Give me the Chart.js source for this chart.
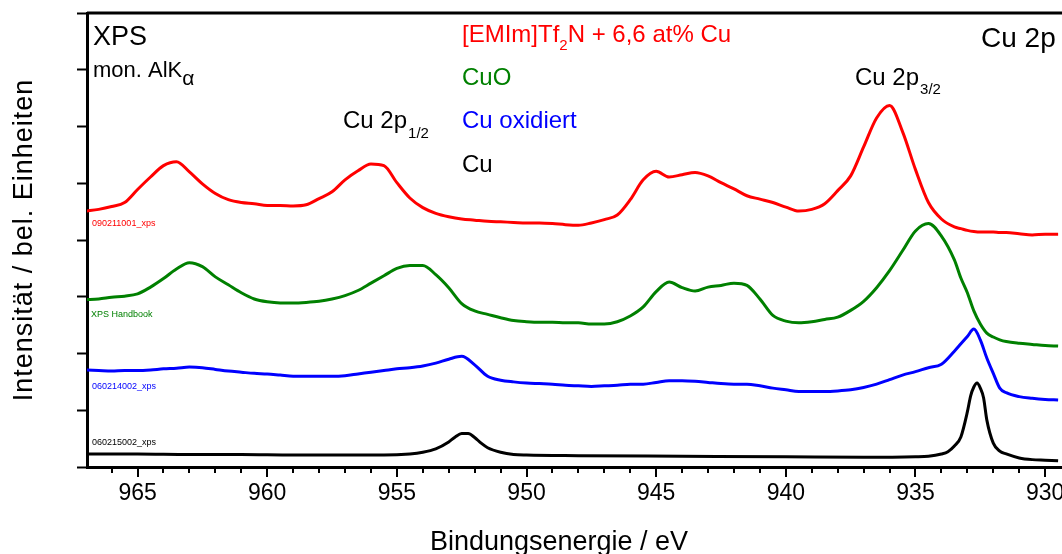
<!DOCTYPE html>
<html>
<head>
<meta charset="utf-8">
<script src="https://cdn.jsdelivr.net/npm/chart.js@4.4.1/dist/chart.umd.min.js"></script>
<style>
html, body { margin: 0; padding: 0; background: #fff; overflow: hidden; }
canvas { display: block; }
</style>
</head>
<body>
<canvas id="xps" width="1062" height="554"></canvas>
<script>
"use strict";

// Bindungsenergie grid (eV) for the three broad spectra
var energy = [967, 966.5, 966, 965.5, 965, 964.5, 964, 963.5, 963, 962.5, 962, 961.5, 961, 960.5, 960,
    959.5, 959, 958.5, 958, 957.5, 957, 956.5, 956, 955.5, 955, 954.5, 954, 953.5, 953, 952.5, 952,
    951.5, 951, 950.5, 950, 949.5, 949, 948.5, 948, 947.5, 947, 946.5, 946, 945.5, 945, 944.5, 944,
    943.5, 943, 942.5, 942, 941.5, 941, 940.5, 940, 939.5, 939, 938.5, 938, 937.5, 937, 936.5, 936,
    935.5, 935, 934.5, 934, 933.5, 933.25, 933, 932.75, 932.5, 932.25, 932, 931.75, 931.5, 931,
    930.5, 930, 929.5];

// [EMIm]Tf2N + 6,6 at% Cu (090211001_xps)
var emimCu = [4.51, 4.54, 4.59, 4.66, 4.89, 5.11, 5.31, 5.38, 5.20, 4.99, 4.82, 4.71, 4.66, 4.64, 4.61,
    4.61, 4.60, 4.62, 4.73, 4.85, 5.06, 5.22, 5.34, 5.31, 5.01, 4.74, 4.57, 4.47, 4.41, 4.37, 4.35,
    4.33, 4.32, 4.31, 4.30, 4.30, 4.29, 4.27, 4.26, 4.30, 4.36, 4.44, 4.71, 5.06, 5.21, 5.11, 5.15,
    5.19, 5.13, 5.01, 4.90, 4.78, 4.72, 4.66, 4.58, 4.51, 4.54, 4.64, 4.87, 5.13, 5.64, 6.15, 6.37,
    5.91, 5.24, 4.66, 4.37, 4.23, 4.20, 4.17, 4.15, 4.14, 4.14, 4.14, 4.13, 4.13, 4.11,
    4.09, 4.10, 4.10];

// CuO (XPS Handbook)
var cuO = [2.95, 2.96, 2.99, 3.01, 3.05, 3.17, 3.32, 3.49, 3.60, 3.53, 3.35, 3.21, 3.07, 2.96, 2.91,
    2.89, 2.89, 2.90, 2.92, 2.96, 3.02, 3.11, 3.24, 3.37, 3.50, 3.55, 3.55, 3.39, 3.16, 2.88, 2.75,
    2.69, 2.63, 2.58, 2.56, 2.55, 2.55, 2.54, 2.54, 2.52, 2.52, 2.56, 2.66, 2.82, 3.09, 3.26, 3.16,
    3.10, 3.17, 3.20, 3.24, 3.20, 2.96, 2.67, 2.57, 2.54, 2.56, 2.60, 2.64, 2.76, 2.92, 3.16, 3.46,
    3.81, 4.16, 4.29, 4.07, 3.65, 3.33, 3.07, 2.75, 2.52, 2.36, 2.29, 2.24, 2.21, 2.18,
    2.16, 2.14, 2.13];

// Cu oxidiert (060214002_xps)
var cuOxidiert = [1.71, 1.70, 1.69, 1.70, 1.70, 1.71, 1.73, 1.74, 1.76, 1.75, 1.72, 1.69, 1.67, 1.65, 1.64,
    1.62, 1.60, 1.60, 1.60, 1.60, 1.61, 1.64, 1.67, 1.70, 1.73, 1.75, 1.78, 1.83, 1.90, 1.95, 1.80,
    1.60, 1.53, 1.50, 1.48, 1.47, 1.46, 1.44, 1.43, 1.42, 1.43, 1.44, 1.46, 1.46, 1.49, 1.52, 1.52,
    1.51, 1.49, 1.47, 1.46, 1.46, 1.43, 1.39, 1.36, 1.33, 1.33, 1.33, 1.34, 1.36, 1.40, 1.46, 1.54,
    1.62, 1.68, 1.75, 1.81, 2.04, 2.17, 2.30, 2.43, 2.24, 1.92, 1.65, 1.39, 1.31, 1.24,
    1.21, 1.19, 1.18];

// metallic Cu (060215002_xps), denser around the narrow lines
var cuEnergy = [967, 965, 963, 961, 959, 957, 955.5, 954.5, 954, 953.5, 953, 952.75, 952.5, 952.25,
    952, 951.75, 951.5, 951, 950.5, 950, 948, 944, 940, 937, 935, 934.5, 934, 933.75, 933.5, 933.25,
    933, 932.875, 932.75, 932.625, 932.5, 932.375, 932.25, 932, 931.75, 931.5, 931, 930.5, 930, 929.5];
var cuMetal = [0.23, 0.23, 0.22, 0.22, 0.21, 0.21, 0.21, 0.23, 0.26, 0.32, 0.44, 0.53, 0.59, 0.59,
    0.52, 0.42, 0.34, 0.26, 0.22, 0.21, 0.20, 0.19, 0.18, 0.17, 0.18, 0.19, 0.23, 0.27, 0.37, 0.53,
    0.97, 1.25, 1.41, 1.48, 1.39, 1.22, 0.83, 0.42, 0.28, 0.23, 0.16, 0.13, 0.12, 0.11];

var labelEvery = 5;

var FONT = '"Liberation Sans", Arial, sans-serif';

function pairs(xs, ys) {
    return xs.map(function (x, i) { return { x: x, y: ys[i] }; });
}

function drawParts(ctx, x, y, parts, color) {
    ctx.fillStyle = color;
    ctx.textAlign = 'left';
    ctx.textBaseline = 'alphabetic';
    parts.forEach(function (p) {
        ctx.font = p[1] + 'px ' + FONT;
        ctx.fillText(p[0], x, y + (p[2] || 0));
        x += ctx.measureText(p[0]).width + (p[3] || 0);
    });
}

// frame, minor ticks, axis titles and annotations
var decorations = {
    id: 'decorations',
    afterDraw: function (chart) {
        var ctx = chart.ctx;
        var area = chart.chartArea;
        var xs = chart.scales.x;
        ctx.save();

        ctx.strokeStyle = '#000';
        ctx.lineWidth = 3;
        ctx.beginPath();
        ctx.moveTo(area.left, area.top);
        ctx.lineTo(area.right + 2, area.top);
        ctx.stroke();

        ctx.lineWidth = 2;
        xs.ticks.forEach(function (t) {
            if (Math.round(t.value) !== t.value) return;
            var px = Math.round(xs.getPixelForValue(t.value));
            var len = t.value % labelEvery === 0 ? 10 : 6;
            ctx.beginPath();
            ctx.moveTo(px, area.bottom);
            ctx.lineTo(px, area.bottom + len);
            ctx.stroke();
        });

        // axis titles
        ctx.fillStyle = '#000';
        ctx.font = '27px ' + FONT;
        ctx.textAlign = 'center';
        ctx.textBaseline = 'alphabetic';
        ctx.fillText('Bindungsenergie / eV', 559, 550);

        ctx.save();
        ctx.translate(32, 240);
        ctx.rotate(-Math.PI / 2);
        ctx.letterSpacing = '1px';
        ctx.fillText('Intensität / bel. Einheiten', 0, 0);
        ctx.restore();

        // annotations
        drawParts(ctx, 93, 45, [['XPS', 27]], '#000');
        drawParts(ctx, 93, 77, [['mon. AlK', 22], ['\u03b1', 21, 8]], '#000');
        drawParts(ctx, 981, 47, [['Cu 2p', 28]], '#000');
        drawParts(ctx, 343, 128, [['Cu 2p', 24, 0, 1], ['1/2', 15, 10]], '#000');
        drawParts(ctx, 855, 85, [['Cu 2p', 24, 0, 1], ['3/2', 15, 9]], '#000');

        drawParts(ctx, 462, 42, [['[EMIm]Tf', 24], ['2', 15, 8], ['N + 6,6 at% Cu', 24]], '#ff0000');
        drawParts(ctx, 462, 85, [['CuO', 24]], '#008000');
        drawParts(ctx, 462, 128, [['Cu oxidiert', 24]], '#0000ff');
        drawParts(ctx, 462, 172, [['Cu', 24]], '#000');

        drawParts(ctx, 92, 226, [['090211001_xps', 9]], '#ff0000');
        drawParts(ctx, 91, 317, [['XPS Handbook', 9]], '#008000');
        drawParts(ctx, 92, 389, [['060214002_xps', 9]], '#0000ff');
        drawParts(ctx, 92, 445, [['060215002_xps', 9]], '#000');

        ctx.restore();
    }
};

var ctx1 = document.getElementById('xps').getContext('2d');
var xpsChart = new Chart(ctx1, {
    type: 'line',
    data: {
        datasets: [
            { label: '[EMIm]Tf2N + 6,6 at% Cu', data: pairs(energy, emimCu), borderColor: '#ff0000' },
            { label: 'CuO', data: pairs(energy, cuO), borderColor: '#008000' },
            { label: 'Cu oxidiert', data: pairs(energy, cuOxidiert), borderColor: '#0000ff' },
            { label: 'Cu', data: pairs(cuEnergy, cuMetal), borderColor: '#000000' }
        ]
    },
    options: {
        responsive: false,
        animation: false,
        layout: { padding: { top: 13, right: 0, left: 0, bottom: 0 } },
        datasets: {
            line: { borderWidth: 3, pointRadius: 0, fill: false, cubicInterpolationMode: 'monotone' }
        },
        plugins: { legend: { display: false }, tooltip: { enabled: false } },
        scales: {
            x: {
                type: 'linear',
                reverse: true,
                min: 929.35,
                max: 966.95,
                border: { color: '#000', width: 3 },
                grid: { drawOnChartArea: false, tickLength: 10, tickColor: 'rgba(0,0,0,0)' },
                ticks: {
                    stepSize: 1,
                    includeBounds: false,
                    autoSkip: false,
                    maxRotation: 0,
                    color: '#000',
                    font: { family: FONT, size: 23 },
                    callback: function (v) { return v % labelEvery === 0 ? String(v) : ''; }
                },
                afterFit: function (s) { s.height = 87; s.paddingLeft = 0; s.paddingRight = 0; }
            },
            y: {
                min: 0,
                max: 8,
                border: { color: '#000', width: 3 },
                grid: { drawOnChartArea: false, tickLength: 10, tickWidth: 2, tickColor: '#000' },
                ticks: { stepSize: 1, display: false },
                afterFit: function (s) { s.width = 87; }
            }
        }
    },
    plugins: [decorations]
});
</script>
</body>
</html>
